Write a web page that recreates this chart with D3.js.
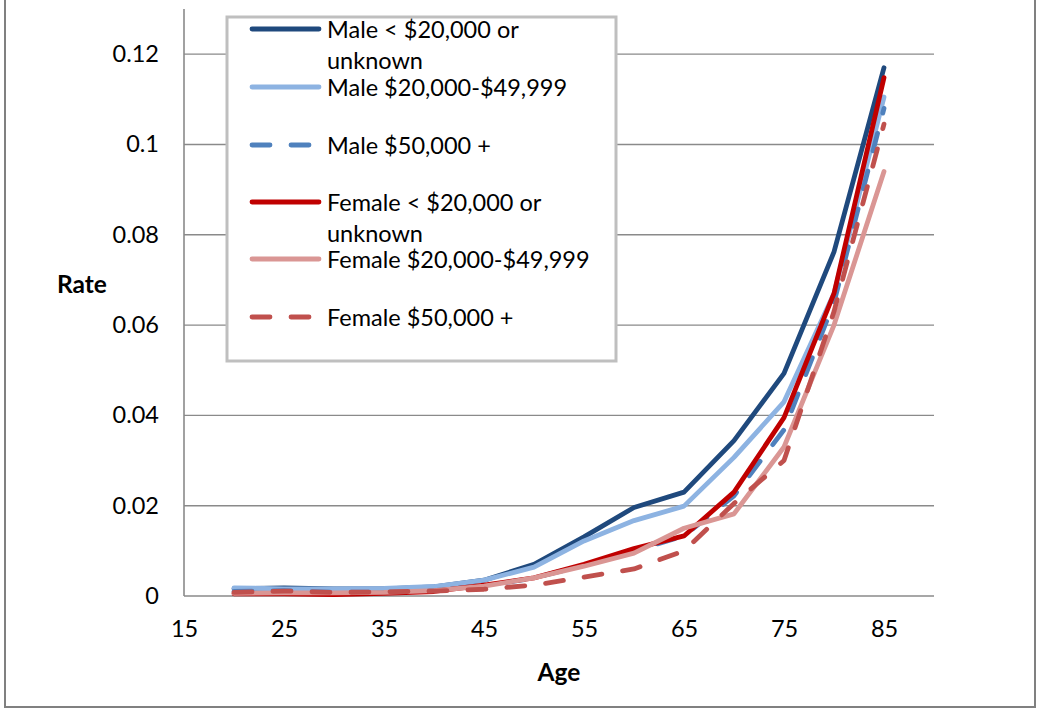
<!DOCTYPE html>
<html>
<head>
<meta charset="utf-8">
<script src="https://cdn.jsdelivr.net/npm/d3@7"></script>
<style>
  html, body { margin: 0; padding: 0; background: #fff; }
  svg { display: block; }
  text { font-family: Lato, "Noto Sans", sans-serif; fill: #000; }
</style>
</head>
<body>
<svg id="chart" width="1037" height="709"></svg>
<script>
// Age group midpoints
const ages = [20, 25, 30, 35, 40, 45, 50, 55, 60, 65, 70, 75, 80, 85];

// Rates by sex and income band
const maleLow    = [0.0016, 0.0018, 0.0016, 0.0016, 0.0020, 0.0035, 0.0070, 0.0131, 0.0196, 0.0230, 0.0344, 0.0493, 0.0762, 0.1170];
const maleMid    = [0.0018, 0.0016, 0.0016, 0.0017, 0.0021, 0.0035, 0.0064, 0.0122, 0.0167, 0.0199, 0.0307, 0.0430, 0.0670, 0.1105];
const maleHigh   = [0.0010, 0.0012, 0.0008, 0.0009, 0.0012, 0.0022, 0.0040, 0.0068, 0.0100, 0.0133, 0.0222, 0.0368, 0.0650, 0.1080];
const femaleLow  = [0.0005, 0.0005, 0.0003, 0.0006, 0.0010, 0.0024, 0.0040, 0.0070, 0.0105, 0.0133, 0.0230, 0.0395, 0.0670, 0.1148];
const femaleMid  = [0.0006, 0.0007, 0.0007, 0.0008, 0.0012, 0.0022, 0.0040, 0.0066, 0.0095, 0.0150, 0.0182, 0.0330, 0.0600, 0.0940];
const femaleHigh = [0.0008, 0.0011, 0.0008, 0.0009, 0.0011, 0.0015, 0.0024, 0.0042, 0.0060, 0.0100, 0.0205, 0.0300, 0.0630, 0.1045];

const seriesNames = [
  ["Male < $20,000 or", "unknown"],
  ["Male $20,000-$49,999"],
  ["Male $50,000 +"],
  ["Female < $20,000 or", "unknown"],
  ["Female $20,000-$49,999"],
  ["Female $50,000 +"]
];
const seriesValues = [maleLow, maleMid, maleHigh, femaleLow, femaleMid, femaleHigh];
const seriesColors = ["#1f497d", "#8db3e2", "#4f81bd", "#c00000", "#da9694", "#c0504d"];
const seriesDashed = [false, false, true, false, false, true];

const xTicks = [15, 25, 35, 45, 55, 65, 75, 85];
const yTicks = [0, 0.02, 0.04, 0.06, 0.08, 0.1, 0.12];

const svg = d3.select("#chart");

// Outer chart frame
svg.append("path")
  .attr("d", "M5,-2 V707 H1035 V-2")
  .attr("fill", "none")
  .attr("stroke", "#808080")
  .attr("stroke-width", 2);

const plot = { left: 184, right: 934, top: 9, bottom: 596 };

const x = d3.scaleLinear().domain([15, 90]).range([plot.left, plot.right]);
const y = d3.scaleLinear().domain([0, 0.13]).range([plot.bottom, plot.top]);

// Horizontal gridlines
svg.append("g")
  .selectAll("line")
  .data(yTicks.filter(d => d > 0))
  .join("line")
  .attr("x1", plot.left).attr("x2", plot.right)
  .attr("y1", d => y(d)).attr("y2", d => y(d))
  .attr("stroke", "#8a8a8a")
  .attr("stroke-width", 1.4);

// Y axis
const yAxis = svg.append("g")
  .attr("transform", `translate(${plot.left},0)`)
  .call(d3.axisLeft(y).tickValues(yTicks).tickSize(0).tickPadding(25).tickFormat(d => d3.format("~g")(+d.toFixed(2))));
yAxis.select(".domain").remove();
yAxis.selectAll("text").attr("font-size", 23.5).attr("font-family", "Lato, 'Noto Sans', sans-serif");
svg.append("line")
  .attr("x1", plot.left).attr("x2", plot.left)
  .attr("y1", plot.top).attr("y2", plot.bottom)
  .attr("stroke", "#8a8a8a").attr("stroke-width", 1.6);

// X axis
const xAxis = svg.append("g")
  .attr("transform", `translate(0,${plot.bottom})`)
  .call(d3.axisBottom(x).tickValues(xTicks).tickSize(0).tickPadding(24));
xAxis.select(".domain").remove();
xAxis.selectAll("text").attr("font-size", 23.5).attr("font-family", "Lato, 'Noto Sans', sans-serif");
svg.append("line")
  .attr("x1", plot.left).attr("x2", plot.right)
  .attr("y1", plot.bottom).attr("y2", plot.bottom)
  .attr("stroke", "#8a8a8a").attr("stroke-width", 1.6);

// Axis titles
svg.append("text")
  .attr("x", 82).attr("y", 283)
  .attr("text-anchor", "middle").attr("dominant-baseline", "central")
  .attr("font-size", 24.5).attr("font-weight", "bold")
  .text("Rate");
svg.append("text")
  .attr("x", 559).attr("y", 671)
  .attr("text-anchor", "middle").attr("dominant-baseline", "central")
  .attr("font-size", 24.5).attr("font-weight", "bold")
  .text("Age");

// Series lines
const line = d3.line().x(d => x(d[0])).y(d => y(d[1]));
seriesValues.forEach((vals, i) => {
  svg.append("path")
    .datum(ages.map((a, j) => [a, vals[j]]))
    .attr("d", line)
    .attr("fill", "none")
    .attr("stroke", seriesColors[i])
    .attr("stroke-width", 4.8)
    .attr("stroke-linejoin", "round")
    .attr("stroke-linecap", "round")
    .attr("stroke-dasharray", seriesDashed[i] ? "18,21" : null);
});

// Legend
const legend = svg.append("g");
legend.append("rect")
  .attr("x", 227).attr("y", 17)
  .attr("width", 389).attr("height", 344)
  .attr("fill", "#fff")
  .attr("stroke", "#bfbfbf")
  .attr("stroke-width", 3);

const legendRowY = [29, 87, 145, 202, 259, 317];
seriesNames.forEach((lines, i) => {
  const g = legend.append("g").attr("transform", `translate(0,${legendRowY[i]})`);
  g.append("line")
    .attr("x1", 252).attr("x2", 319)
    .attr("y1", 0).attr("y2", 0)
    .attr("stroke", seriesColors[i])
    .attr("stroke-width", 4.8)
    .attr("stroke-linecap", "round")
    .attr("stroke-dasharray", seriesDashed[i] ? "18,21" : null);
  lines.forEach((t, k) => {
    g.append("text")
      .attr("x", 327).attr("y", k * 31)
      .attr("dominant-baseline", "central")
      .attr("font-size", 23.5)
      .text(t);
  });
});
</script>
</body>
</html>
